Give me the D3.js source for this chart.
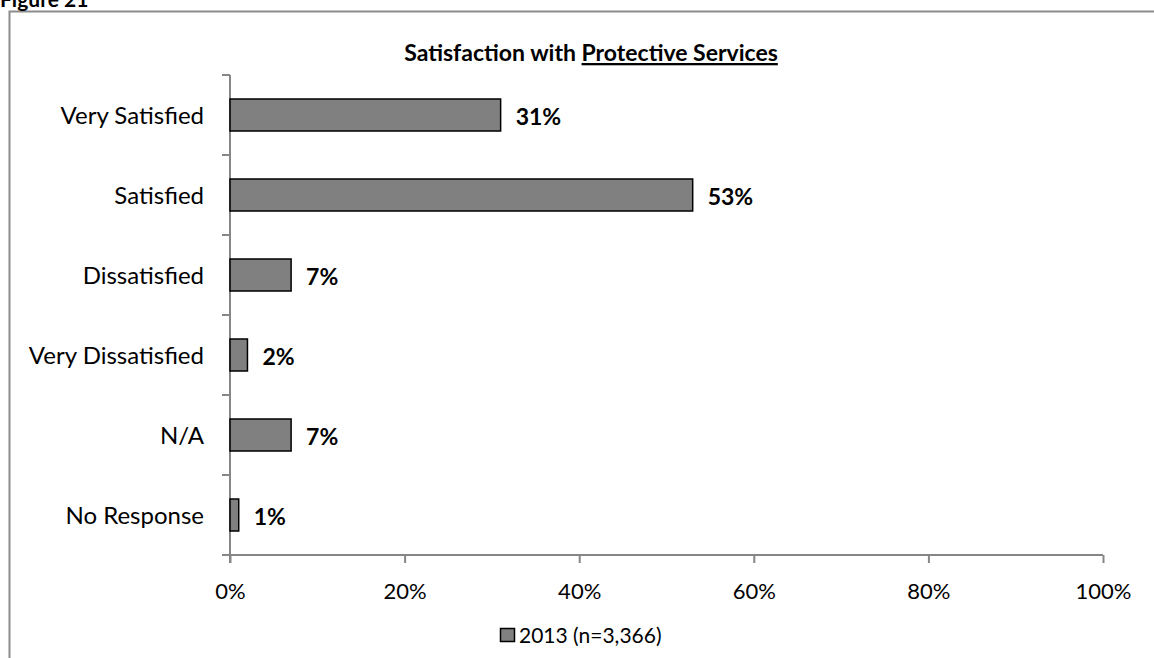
<!DOCTYPE html>
<html><head><meta charset="utf-8">
<script src="https://cdn.jsdelivr.net/npm/d3@7"></script>
<style>
html,body{margin:0;padding:0;background:#fff;}
svg{display:block;font-family:Lato,"Open Sans",sans-serif;}
</style></head>
<body>
<svg id="chart" width="1154" height="658"></svg>
<script>
const categories = ["Very Satisfied","Satisfied","Dissatisfied","Very Dissatisfied","N/A","No Response"];
const values2013 = [31,53,7,2,7,1];
const xTicks = [0,20,40,60,80,100];
const seriesName = "2013 (n=3,366)";
const titleA = "Satisfaction with ";
const titleB = "Protective Services";
const figureLabel = "Figure 21";

const svg = d3.select("#chart");
const m = {left:230, right:1103, top:75, bottom:555};

// outer frame
svg.append("rect").attr("x",9.5).attr("y",11.5).attr("width",1160).attr("height",660)
  .attr("fill","none").attr("stroke","#8c8c8c").attr("stroke-width",2);

svg.append("text").attr("x",0).attr("y",7).attr("font-weight","bold").attr("font-size",21)
  .attr("fill","#000").text(figureLabel);

const x = d3.scaleLinear().domain([0,100]).range([m.left,m.right]);
const y = d3.scaleBand().domain(categories).range([m.top,m.bottom]).paddingInner(0.6).paddingOuter(0.3);

// title
const t = svg.append("text").attr("x",591).attr("y",61).attr("text-anchor","middle")
  .attr("font-weight","bold").attr("font-size",23).attr("fill","#000");
t.append("tspan").text(titleA);
t.append("tspan").attr("text-decoration","underline").text(titleB);

// x axis
const xAxis = d3.axisBottom(x).tickValues(xTicks).tickFormat(d=>d+"%").tickSize(8).tickSizeOuter(0);
const gx = svg.append("g").attr("transform",`translate(0,${m.bottom})`).call(xAxis);
gx.select(".domain").attr("stroke","#868686").attr("stroke-width",2).attr("d",`M${m.left-8},0H${m.right}`);
gx.selectAll(".tick line").attr("stroke","#868686").attr("stroke-width",2);
gx.selectAll(".tick text").attr("font-size",22).attr("fill","#000").attr("dy",0).attr("y",44)
  .attr("font-family","Lato,sans-serif");

// y axis: ticks at band boundaries
const boundaries = d3.range(categories.length+1).map(i=>m.top + i*(m.bottom-m.top)/categories.length);
const gy = svg.append("g");
gy.append("line").attr("x1",m.left).attr("x2",m.left).attr("y1",m.top).attr("y2",m.bottom+8)
  .attr("stroke","#868686").attr("stroke-width",2);
gy.selectAll("line.tk").data(boundaries.slice(0,-1)).join("line").attr("class","tk")
  .attr("x1",m.left-8).attr("x2",m.left).attr("y1",d=>d).attr("y2",d=>d)
  .attr("stroke","#868686").attr("stroke-width",2);
gy.selectAll("text").data(categories).join("text")
  .attr("x",204).attr("y",d=>y(d)+y.bandwidth()/2).attr("dy","0.37em")
  .attr("text-anchor","end").attr("font-size",24).attr("fill","#000").text(d=>d);

// bars
svg.selectAll("rect.bar").data(categories).join("rect").attr("class","bar")
  .attr("x",x(0)).attr("y",d=>y(d)).attr("width",(d,i)=>x(values2013[i])-x(0))
  .attr("height",y.bandwidth()).attr("fill","#808080").attr("stroke","#000").attr("stroke-width",1.5);

// labels
svg.selectAll("text.val").data(categories).join("text").attr("class","val")
  .attr("x",(d,i)=>x(values2013[i])+15).attr("y",d=>y(d)+y.bandwidth()/2).attr("dy","0.42em")
  .attr("font-weight","bold").attr("font-size",23).attr("fill","#000").text((d,i)=>values2013[i]+"%");

// legend
const lg = svg.append("g");
lg.append("rect").attr("x",500.5).attr("y",628.5).attr("width",14).attr("height",13)
  .attr("fill","#808080").attr("stroke","#000").attr("stroke-width",1.5);
lg.append("text").attr("x",519).attr("y",643).attr("font-size",21).attr("fill","#000").text(seriesName);
</script>
</body></html>
